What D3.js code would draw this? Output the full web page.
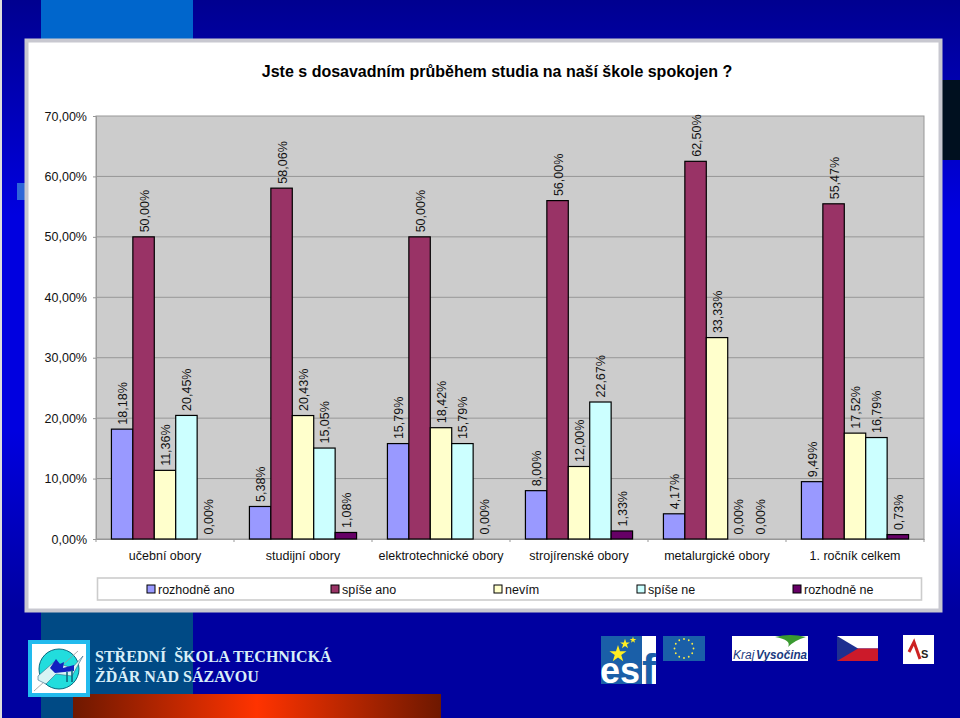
<!DOCTYPE html>
<html>
<head>
<meta charset="utf-8">
<script src="https://d3js.org/d3.v7.min.js"></script>
<style>
  html, body { margin: 0; padding: 0; background: #0000a0; overflow: hidden; }
  text { font-family: "Liberation Sans", Arial, sans-serif; fill: #111; }
</style>
</head>
<body>
<div id="chart"></div>
<script>
// chart data
let categories = ["učební obory", "studijní obory", "elektrotechnické obory", "strojírenské obory", "metalurgické obory", "1. ročník celkem"];
let seriesNames = ["rozhodně ano", "spíše ano", "nevím", "spíše ne", "rozhodně ne"];
let rozhodneAno = [18.18, 5.38, 15.79, 8.00, 4.17, 9.49];
let spiseAno = [50.00, 58.06, 50.00, 56.00, 62.50, 55.47];
let nevim = [11.36, 20.43, 18.42, 12.00, 33.33, 17.52];
let spiseNe = [20.45, 15.05, 15.79, 22.67, 0.00, 16.79];
let rozhodneNe = [0.00, 1.08, 0.00, 1.33, 0.00, 0.73];
let yTicks = [0, 10, 20, 30, 40, 50, 60, 70];
let seriesColors = ["#9999ff", "#993366", "#ffffcc", "#ccffff", "#660066"];

let allSeries = [rozhodneAno, spiseAno, nevim, spiseNe, rozhodneNe];
let pct = v => v.toFixed(2).replace(".", ",") + "%";

let svgWidth = 960;
let svgHeight = 718;
let margin = { top: 116, right: 36, bottom: 179, left: 96 };
let width = svgWidth - margin.left - margin.right;
let height = svgHeight - margin.top - margin.bottom;

let svg = d3.select("#chart").append("svg")
  .attr("width", svgWidth)
  .attr("height", svgHeight)
  .style("display", "block");

// slide background
let defs = svg.append("defs");
let bgGrad = defs.append("linearGradient").attr("id", "bgGrad")
  .attr("x1", 0).attr("x2", 0).attr("y1", 0).attr("y2", 1);
bgGrad.append("stop").attr("offset", "0%").attr("stop-color", "#000090");
bgGrad.append("stop").attr("offset", "30%").attr("stop-color", "#0000e0");
bgGrad.append("stop").attr("offset", "60%").attr("stop-color", "#0000e0");
bgGrad.append("stop").attr("offset", "85%").attr("stop-color", "#0000a0");
bgGrad.append("stop").attr("offset", "100%").attr("stop-color", "#0000a0");
let redGrad = defs.append("linearGradient").attr("id", "redGrad");
redGrad.append("stop").attr("offset", "0%").attr("stop-color", "#6e1800");
redGrad.append("stop").attr("offset", "50%").attr("stop-color", "#ff3300");
redGrad.append("stop").attr("offset", "100%").attr("stop-color", "#6e1800");

svg.append("rect").attr("width", svgWidth).attr("height", svgHeight).attr("fill", "url(#bgGrad)");
svg.append("rect").attr("width", 2).attr("height", svgHeight).attr("fill", "#dddddd");
svg.append("rect").attr("x", 41).attr("y", 0).attr("width", 152).attr("height", 40).attr("fill", "#0066cc");
svg.append("rect").attr("x", 41).attr("y", 612).attr("width", 152).attr("height", 106).attr("fill", "#004a85");
svg.append("rect").attr("x", 17).attr("y", 183).attr("width", 10).attr("height", 17).attr("fill", "#2f66d8");
svg.append("rect").attr("x", 942).attr("y", 80).attr("width", 18).attr("height", 80).attr("fill", "#00101f");
svg.append("rect").attr("x", 73).attr("y", 694).attr("width", 368).attr("height", 24).attr("fill", "url(#redGrad)");

// white chart panel
svg.append("rect")
  .attr("x", 26.5).attr("y", 40.5).attr("width", 914).attr("height", 570)
  .attr("fill", "#ffffff").attr("stroke", "#c8c8d0").attr("stroke-width", 4);

let chartGroup = svg.append("g")
  .attr("transform", `translate(${margin.left}, ${margin.top})`);

// scales
let x0 = d3.scaleBand().domain(categories).range([0, width]);
let x1 = d3.scaleBand().domain(seriesNames)
  .range([0, x0.bandwidth()]).paddingOuter(0.72).paddingInner(0);
let y = d3.scaleLinear().domain([0, 70]).range([height, 0]);

// plot area
chartGroup.append("rect")
  .attr("width", width).attr("height", height)
  .attr("fill", "#cccccc").attr("stroke", "#979797");

chartGroup.append("g")
  .selectAll("line")
  .data(yTicks.slice(1, -1))
  .enter()
  .append("line")
    .attr("x1", 0).attr("x2", width)
    .attr("y1", d => y(d)).attr("y2", d => y(d))
    .attr("stroke", "#979797");

// axes
let leftAxis = d3.axisLeft(y).tickValues(yTicks).tickFormat(pct).tickSize(3).tickPadding(6);
let yAxisG = chartGroup.append("g").call(leftAxis);
yAxisG.select(".domain").attr("stroke", "#979797");
yAxisG.selectAll(".tick line").attr("stroke", "#979797");
yAxisG.selectAll("text").attr("font-size", 12.5);

let bottomAxis = d3.axisBottom(x0).tickSize(0).tickPadding(12.5);
let xAxisG = chartGroup.append("g").attr("transform", `translate(0, ${height})`).call(bottomAxis);
xAxisG.select(".domain").attr("stroke", "#979797");
xAxisG.selectAll("text").attr("font-size", 12.5);
xAxisG.selectAll(".sep")
  .data(d3.range(categories.length + 1))
  .enter()
  .append("line")
    .attr("x1", i => i * x0.step()).attr("x2", i => i * x0.step())
    .attr("y1", 0).attr("y2", 3)
    .attr("stroke", "#979797");

// bars and their rotated labels
seriesNames.forEach((name, s) => {
  let g = chartGroup.append("g");
  let xPos = (d, i) => x0(categories[i]) + x1(name);

  g.selectAll("rect")
    .data(allSeries[s])
    .enter()
    .append("rect")
      .attr("x", xPos)
      .attr("y", d => y(d))
      .attr("width", x1.bandwidth())
      .attr("height", d => height - y(d))
      .attr("fill", seriesColors[s])
      .attr("stroke", "#000")
      .attr("stroke-width", 1.2);

  g.selectAll("text")
    .data(allSeries[s])
    .enter()
    .append("text")
      .text(pct)
      .attr("transform", (d, i) => `translate(${xPos(d, i) + x1.bandwidth() / 2 + 5}, ${y(d) - 4.5}) rotate(-90)`)
      .attr("font-size", 12.5);
});

// title
svg.append("text")
  .attr("x", 497).attr("y", 77)
  .attr("text-anchor", "middle")
  .attr("font-size", 16).attr("font-weight", "bold")
  .style("fill", "#000")
  .text("Jste s dosavadním průběhem studia na naší škole spokojen ?");

// legend
let legend = svg.append("g");
legend.append("rect")
  .attr("x", 97.5).attr("y", 578).attr("width", 824).attr("height", 22)
  .attr("fill", "#ffffff").attr("stroke", "#cccccc").attr("stroke-width", 1.6);
let legendX = [147, 331, 494, 637, 793];
legend.selectAll("rect.key")
  .data(seriesNames)
  .enter()
  .append("rect")
    .attr("class", "key")
    .attr("x", (d, i) => legendX[i]).attr("y", 585)
    .attr("width", 8).attr("height", 8)
    .attr("fill", (d, i) => seriesColors[i])
    .attr("stroke", "#000");
legend.selectAll("text")
  .data(seriesNames)
  .enter()
  .append("text")
    .attr("x", (d, i) => legendX[i] + 11).attr("y", 594)
    .attr("font-size", 12.5)
    .text(d => d);

// footer: school logo and name
let logo = svg.append("g");
logo.append("rect").attr("x", 30).attr("y", 642).attr("width", 58).attr("height", 53).attr("fill", "#fff").attr("stroke", "#22bbee").attr("stroke-width", 4);
logo.append("circle").attr("cx", 59).attr("cy", 669).attr("r", 20).attr("fill", "#22dddd").attr("stroke", "#0a6a80");
logo.append("line").attr("x1", 34).attr("y1", 691).attr("x2", 78).attr("y2", 651).attr("stroke", "#999").attr("stroke-width", 0.8);
logo.append("path").attr("d", "M38 676 L54 662 L72 668 L83 656 L72 676 L56 674 L46 684 L38 680 Z").attr("fill", "#d8f4f4").attr("stroke", "#336688").attr("stroke-width", 0.6);
logo.append("path").attr("d", "M50 668 L56 659 L60 664 L64 662 L63 668 L74 665 L74 671 L55 673 Z").attr("fill", "#1020c0");
logo.append("path").attr("d", "M67 672 V682 M72 670 V682").attr("stroke", "#0a6a80").attr("stroke-width", 1.6);

[["STŘEDNÍ  ŠKOLA TECHNICKÁ", 662], ["ŽĎÁR NAD SÁZAVOU", 682]].forEach(t => {
  svg.append("text")
    .attr("x", 95).attr("y", t[1])
    .attr("font-size", 16).attr("font-weight", "bold")
    .attr("xml:space", "preserve")
    .style("font-family", '"Liberation Serif", serif')
    .style("white-space", "pre")
    .style("fill", "#d8eef8")
    .text(t[0]);
});

// footer: sponsor logos
let star = d3.symbol().type(d3.symbolStar);
let esf = svg.append("g");
esf.append("rect").attr("x", 601).attr("y", 636).attr("width", 55).attr("height", 48).attr("fill", "#1a5fa8");
esf.append("rect").attr("x", 642).attr("y", 636).attr("width", 14).attr("height", 48).attr("fill", "#fff");
esf.append("path").attr("d", star.size(90)()).attr("transform", "translate(618,654)").attr("fill", "#ffee22");
esf.append("path").attr("d", star.size(30)()).attr("transform", "translate(625,644)").attr("fill", "#ffee22");
esf.append("path").attr("d", star.size(14)()).attr("transform", "translate(633,640)").attr("fill", "#ffee22");
esf.append("text").attr("x", 600).attr("y", 683).attr("font-size", 36).attr("font-weight", "bold")
  .attr("textLength", 40).attr("lengthAdjust", "spacingAndGlyphs").style("fill", "#fff").text("es");
esf.append("text").attr("x", 642).attr("y", 684).attr("font-size", 42).attr("font-weight", "bold")
  .attr("textLength", 14).attr("lengthAdjust", "spacingAndGlyphs").style("fill", "#1a5fa8").text("f");

let eu = svg.append("g");
eu.append("rect").attr("x", 663).attr("y", 636).attr("width", 42).attr("height", 25).attr("fill", "#1a5fa8");
eu.selectAll("circle").data(d3.range(12)).enter().append("circle")
  .attr("cx", i => 684 + 9.5 * Math.cos(i * Math.PI / 6))
  .attr("cy", i => 648.5 + 9.5 * Math.sin(i * Math.PI / 6))
  .attr("r", 0.9).attr("fill", "#ffee44");

let kraj = svg.append("g");
kraj.append("rect").attr("x", 732).attr("y", 636).attr("width", 76).attr("height", 25).attr("fill", "#fff");
kraj.append("path").attr("d", "M775 637 Q790 633 806 637 Q795 640 788 647 Q792 640 775 637 Z").attr("fill", "#3a9a30");
kraj.append("text").attr("x", 733).attr("y", 659).attr("font-size", 12).attr("font-style", "italic").style("fill", "#1a3a80").text("Kraj");
kraj.append("text").attr("x", 756).attr("y", 659).attr("font-size", 12.5).attr("font-weight", "bold").attr("font-style", "italic")
  .attr("textLength", 51).attr("lengthAdjust", "spacingAndGlyphs").style("fill", "#1a3a80").text("Vysočina");

let flag = svg.append("g");
flag.append("rect").attr("x", 837).attr("y", 636).attr("width", 41).attr("height", 12.5).attr("fill", "#fff");
flag.append("rect").attr("x", 837).attr("y", 648.5).attr("width", 41).attr("height", 12.5).attr("fill", "#cc1a2a");
flag.append("path").attr("d", "M837 636 L858 648.5 L837 661 Z").attr("fill", "#1e2f90");

let sx = svg.append("g");
sx.append("rect").attr("x", 903).attr("y", 635).attr("width", 31).attr("height", 29).attr("fill", "#fff");
sx.append("path").attr("d", "M909 652 L914 642 L920 659").attr("fill", "none").attr("stroke", "#cc2222").attr("stroke-width", 3);
sx.append("text").attr("x", 921).attr("y", 658).attr("font-size", 11).attr("font-weight", "bold").style("fill", "#222").text("S");
</script>
</body>
</html>
